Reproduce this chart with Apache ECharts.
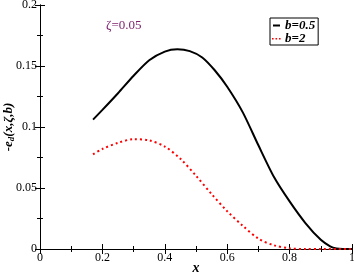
<!DOCTYPE html>
<html><head><meta charset="utf-8">
<script src="https://cdn.jsdelivr.net/npm/echarts@6/dist/echarts.min.js"></script>
<style>html,body{margin:0;padding:0;background:#fff}#c{width:354px;height:273px}</style>
</head><body><div id="c"></div>
<script>
var seriesNames = ['b=0.5', 'b=2'];
var xB05 = [0.17, 0.20, 0.25, 0.30, 0.35, 0.40, 0.44, 0.48, 0.52, 0.56, 0.60, 0.65, 0.70, 0.75, 0.80, 0.85, 0.90, 0.93, 0.95, 0.97, 1.00];
var yB05 = [0.106, 0.114, 0.1277, 0.142, 0.1547, 0.1618, 0.1637, 0.1622, 0.157, 0.1465, 0.133, 0.112, 0.085, 0.059, 0.039, 0.0215, 0.0075, 0.0022, 0.0004, 0, 0];
var xB2 = [0.17, 0.20, 0.25, 0.30, 0.35, 0.40, 0.45, 0.50, 0.55, 0.60, 0.65, 0.70, 0.75, 0.80, 0.85, 0.90, 1.00];
var yB2 = [0.0776, 0.082, 0.087, 0.090, 0.089, 0.084, 0.074, 0.060, 0.045, 0.031, 0.019, 0.0085, 0.003, 0.0006, 0, 0, 0];
var xTicks = [0, 0.2, 0.4, 0.6, 0.8, 1];
var yTicks = [0, 0.05, 0.1, 0.15, 0.2];
var annotation = 'ζ=0.05';

function pairs(xs, ys){ return xs.map(function(x,i){return [x, ys[i]];}); }
var serif = 'Liberation Serif';
var chart = echarts.init(document.getElementById('c'), null, {renderer:'canvas'});
var axisLineStyle = {lineStyle:{color:'#000', width:1}};
function tickCfg(){ return {inside:true, length:5, lineStyle:{color:'#000'}}; }
function minorCfg(){ return {show:true, splitNumber:2, length:3, lineStyle:{color:'#000'}}; }
chart.setOption({
  animation:false,
  grid:{left:40, right:2, top:5, bottom:24, containLabel:false, outerBoundsMode:'none'},
  xAxis:[{
    type:'value', min:xTicks[0], max:xTicks[xTicks.length-1], interval:0.2,
    axisLine:axisLineStyle, axisTick:tickCfg(), minorTick:minorCfg(),
    splitLine:{show:false}, minorSplitLine:{show:false},
    axisLabel:{fontFamily:serif, fontSize:12, color:'#000', margin:3,
      formatter:function(v){ return String(+(+v).toFixed(2)); }},
    name:'x', nameLocation:'middle', nameGap:12, nameMoveOverlap:false,
    nameTextStyle:{fontFamily:serif, fontSize:14, fontStyle:'italic', fontWeight:'bold', color:'#000'}
  },{
    type:'value', position:'top', min:0, max:1, interval:0.2,
    axisLine:axisLineStyle, axisTick:tickCfg(), minorTick:minorCfg(),
    splitLine:{show:false}, axisLabel:{show:false}
  }],
  yAxis:[{
    type:'value', min:yTicks[0], max:yTicks[yTicks.length-1], interval:0.05,
    axisLine:axisLineStyle, axisTick:tickCfg(), minorTick:minorCfg(),
    splitLine:{show:false}, minorSplitLine:{show:false},
    axisLabel:{fontFamily:serif, fontSize:12, color:'#000', margin:3,
      formatter:function(v){ return String(+(+v).toFixed(3)); }},
    name:'{a|-e}{s|d}{a|(x,ζ,b)}', nameLocation:'middle', nameGap:24, nameRotate:90, nameMoveOverlap:false,
    nameTextStyle:{rich:{
      a:{fontFamily:serif, fontSize:13, fontStyle:'italic', fontWeight:'bold', color:'#000'},
      s:{fontFamily:serif, fontSize:9, fontStyle:'italic', fontWeight:'bold', color:'#000', verticalAlign:'bottom', padding:[6,0,0,0]}
    }}
  },{
    type:'value', position:'right', min:0, max:0.2, interval:0.05,
    axisLine:axisLineStyle, axisTick:tickCfg(), minorTick:minorCfg(),
    splitLine:{show:false}, axisLabel:{show:false}
  }],
  legend:{
    left:270, top:18, orient:'vertical', itemGap:0, itemWidth:9, itemHeight:10,
    padding:[1,3,0,2], borderColor:'#000', borderWidth:1, backgroundColor:'#fff',
    textStyle:{fontFamily:serif, fontSize:13, lineHeight:11, fontStyle:'italic', fontWeight:'bold', color:'#000', padding:[0,0,0,-1]},
    data:[
      {name:seriesNames[0], icon:'path://M0,0 M9,10 M1,4h7v2h-7z'},
      {name:seriesNames[1], icon:'path://M0,0 M9,10 M0,4.5h1.6v1.6h-1.6z M3.5,4.5h1.6v1.6h-1.6z M7,4.5h1.6v1.6h-1.6z'}
    ]
  },
  series:[{
    name:seriesNames[0], type:'line', showSymbol:false, symbol:'none', smooth:0.25,
    data:pairs(xB05, yB05),
    lineStyle:{color:'#000', width:2}, itemStyle:{color:'#000'}
  },{
    name:seriesNames[1], type:'line', showSymbol:false, symbol:'none', smooth:0.3,
    data:pairs(xB2, yB2),
    lineStyle:{color:'#ff0000', width:2, type:[2,3]}, itemStyle:{color:'#ff0000'}
  }],
  graphic:[{
    type:'text', left:106, top:19,
    style:{text:annotation, font:'13px "Liberation Serif"', fill:'#7a1f6a'}
  }]
});
</script></body></html>
